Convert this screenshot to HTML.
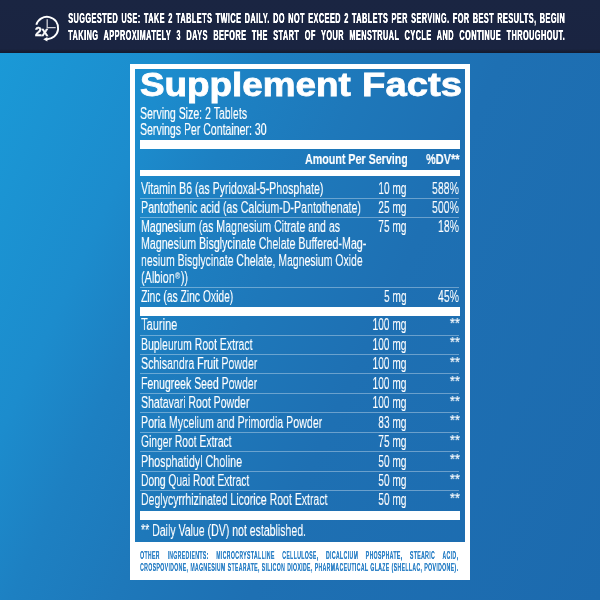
<!DOCTYPE html>
<html><head><meta charset="utf-8"><style>
html,body{margin:0;padding:0;width:600px;height:600px;overflow:hidden}
body{position:relative;font-family:"Liberation Sans",sans-serif;color:#fff;
background:linear-gradient(115deg,#1a9bd8 0%,#1c8ccd 23%,#1d80c2 33%,#1e78ba 45%,#1e70b3 60%,#1c6aae 100%)}
.t{position:absolute;white-space:nowrap;line-height:1;transform-origin:0 0;-webkit-text-stroke:0.15px currentColor;will-change:transform}
.r{position:absolute}
sup{font-size:0.62em;vertical-align:0.42em;line-height:0;margin:0 1px 0 0.5px}
</style></head><body>
<div class="r" style="left:0px;top:0px;width:600px;height:53px;background:linear-gradient(#1a2542 0px,#1a2441 49px,#161d33 51.5px,#141a2e 53px);"></div>
<div class="t" style="left:67.50px;top:9.78px;font-size:15.5px;font-weight:700;transform:scaleX(0.468);width:1061.97px;text-align:justify;text-align-last:justify;-webkit-text-stroke:0px #fff;text-shadow:0.95px 0 0 #fff;letter-spacing:1.05px;">SUGGESTED USE: TAKE 2 TABLETS TWICE DAILY. DO NOT EXCEED 2 TABLETS PER SERVING. FOR BEST RESULTS, BEGIN</div>
<div class="t" style="left:67.50px;top:26.58px;font-size:15.5px;font-weight:700;transform:scaleX(0.468);width:1061.97px;text-align:justify;text-align-last:justify;-webkit-text-stroke:0px #fff;text-shadow:0.95px 0 0 #fff;letter-spacing:1.05px;">TAKING APPROXIMATELY 3 DAYS BEFORE THE START OF YOUR MENSTRUAL CYCLE AND CONTINUE THROUGHOUT.</div>
<svg class="r" style="left:30px;top:10px;will-change:transform" width="34" height="34" viewBox="30 10 34 34">
<path d="M36.3 24.7 A11.2 11.2 0 1 1 46.5 39.2" fill="none" stroke="#fff" stroke-width="1.9"/>
<path d="M43.2 39.2 L47.4 36.9 L47.4 41.5 Z" fill="#fff"/>
<path d="M47.2 19.3 V27.7 H55.7" fill="none" stroke="#d0d0d8" stroke-width="1.3"/>
<text x="34.9" y="35.7" font-family="Liberation Sans" font-weight="700" font-size="12" fill="#fff" stroke="#fff" stroke-width="0.4">2x</text>
</svg>
<div class="r" style="left:130px;top:64px;width:330px;height:473px;border:5px solid #fff;border-bottom-width:38px"></div>
<div class="t" style="left:139.60px;top:67.57px;font-size:33px;font-weight:700;transform:scaleX(1.1167);-webkit-text-stroke:0.8px #fff;">Supplement</div>
<div class="t" style="left:362.00px;top:67.57px;font-size:33px;font-weight:700;transform:scaleX(1.16);-webkit-text-stroke:0.8px #fff;">Facts</div>
<div class="t" style="left:139.50px;top:105.76px;font-size:16px;transform:scaleX(0.6587500000000001);">Serving Size: 2 Tablets</div>
<div class="t" style="left:139.50px;top:122.26px;font-size:16px;transform:scaleX(0.6587500000000001);">Servings Per Container: 30</div>
<div class="r" style="left:140px;top:139.5px;width:320px;height:9.5px;background:#fff;"></div>
<div class="t" style="left:305.40px;top:151.18px;font-size:15.5px;font-weight:700;transform:scaleX(0.69);">Amount Per Serving</div>
<div class="t" style="left:425.50px;top:151.30px;font-size:15px;font-weight:700;transform:scaleX(0.73);">%DV**</div>
<div class="r" style="left:140px;top:169.5px;width:320px;height:6.0px;background:#fff;"></div>
<div class="t" style="left:140.50px;top:180.86px;font-size:16.0px;transform:scaleX(0.6624312499999999);">Vitamin B6 (as Pyridoxal-5-Phosphate)</div>
<div class="t" style="right:193.2px;top:180.86px;font-size:16.0px;transform:scaleX(0.63453125);transform-origin:100% 0">10 mg</div>
<div class="t" style="right:140.7px;top:180.86px;font-size:16.0px;transform:scaleX(0.6587500000000001);transform-origin:100% 0">588%</div>
<div class="r" style="left:140px;top:198px;width:319px;height:1px;background:rgba(255,255,255,0.34);"></div>
<div class="t" style="left:140.50px;top:199.96px;font-size:16.0px;transform:scaleX(0.6666937500000001);">Pantothenic acid (as Calcium-D-Pantothenate)</div>
<div class="t" style="right:193.2px;top:199.96px;font-size:16.0px;transform:scaleX(0.63453125);transform-origin:100% 0">25 mg</div>
<div class="t" style="right:140.7px;top:199.96px;font-size:16.0px;transform:scaleX(0.6587500000000001);transform-origin:100% 0">500%</div>
<div class="r" style="left:140px;top:217px;width:319px;height:1px;background:rgba(255,255,255,0.34);"></div>
<div class="t" style="left:140.50px;top:219.06px;font-size:16.0px;transform:scaleX(0.662140625);">Magnesium (as Magnesium Citrate and as</div>
<div class="t" style="right:193.2px;top:219.06px;font-size:16.0px;transform:scaleX(0.63453125);transform-origin:100% 0">75 mg</div>
<div class="t" style="right:140.7px;top:219.06px;font-size:16.0px;transform:scaleX(0.6587500000000001);transform-origin:100% 0">18%</div>
<div class="t" style="left:140.50px;top:236.06px;font-size:16.0px;transform:scaleX(0.6653374999999999);">Magnesium Bisglycinate Chelate Buffered-Mag-</div>
<div class="t" style="left:140.50px;top:253.06px;font-size:16.0px;transform:scaleX(0.65429375);">nesium Bisglycinate Chelate, Magnesium Oxide</div>
<div class="t" style="left:140.50px;top:270.06px;font-size:16.0px;transform:scaleX(0.678125);">(Albion<sup>&reg;</sup>))</div>
<div class="r" style="left:140px;top:287px;width:319px;height:1px;background:rgba(255,255,255,0.34);"></div>
<div class="t" style="left:140.50px;top:289.36px;font-size:16.0px;transform:scaleX(0.64460625);">Zinc (as Zinc Oxide)</div>
<div class="t" style="right:193.2px;top:289.36px;font-size:16.0px;transform:scaleX(0.63453125);transform-origin:100% 0">5 mg</div>
<div class="t" style="right:140.7px;top:289.36px;font-size:16.0px;transform:scaleX(0.6587500000000001);transform-origin:100% 0">45%</div>
<div class="r" style="left:140px;top:307px;width:320px;height:9px;background:#fff;"></div>
<div class="t" style="left:140.50px;top:317.41px;font-size:16.0px;transform:scaleX(0.69265625);">Taurine</div>
<div class="t" style="right:193.2px;top:317.41px;font-size:16.0px;transform:scaleX(0.63453125);transform-origin:100% 0">100 mg</div>
<div class="t" style="right:140.20px;top:315.95px;font-size:14px;line-height:1;transform:scaleX(0.92);transform-origin:100% 0">**</div>
<div class="r" style="left:140px;top:334.5px;width:319px;height:1.0px;background:rgba(255,255,255,0.34);"></div>
<div class="t" style="left:140.50px;top:336.86px;font-size:16.0px;transform:scaleX(0.656328125);">Bupleurum Root Extract</div>
<div class="t" style="right:193.2px;top:336.86px;font-size:16.0px;transform:scaleX(0.63453125);transform-origin:100% 0">100 mg</div>
<div class="t" style="right:140.20px;top:335.40px;font-size:14px;line-height:1;transform:scaleX(0.92);transform-origin:100% 0">**</div>
<div class="r" style="left:140px;top:353.95px;width:319px;height:1.0px;background:rgba(255,255,255,0.34);"></div>
<div class="t" style="left:140.50px;top:356.31px;font-size:16.0px;transform:scaleX(0.6645625000000001);">Schisandra Fruit Powder</div>
<div class="t" style="right:193.2px;top:356.31px;font-size:16.0px;transform:scaleX(0.63453125);transform-origin:100% 0">100 mg</div>
<div class="t" style="right:140.20px;top:354.85px;font-size:14px;line-height:1;transform:scaleX(0.92);transform-origin:100% 0">**</div>
<div class="r" style="left:140px;top:373.4px;width:319px;height:1.0px;background:rgba(255,255,255,0.34);"></div>
<div class="t" style="left:140.50px;top:375.76px;font-size:16.0px;transform:scaleX(0.656425);">Fenugreek Seed Powder</div>
<div class="t" style="right:193.2px;top:375.76px;font-size:16.0px;transform:scaleX(0.63453125);transform-origin:100% 0">100 mg</div>
<div class="t" style="right:140.20px;top:374.30px;font-size:14px;line-height:1;transform:scaleX(0.92);transform-origin:100% 0">**</div>
<div class="r" style="left:140px;top:392.85px;width:319px;height:1.0px;background:rgba(255,255,255,0.34);"></div>
<div class="t" style="left:140.50px;top:395.21px;font-size:16.0px;transform:scaleX(0.6587500000000001);">Shatavari Root Powder</div>
<div class="t" style="right:193.2px;top:395.21px;font-size:16.0px;transform:scaleX(0.63453125);transform-origin:100% 0">100 mg</div>
<div class="t" style="right:140.20px;top:393.75px;font-size:14px;line-height:1;transform:scaleX(0.92);transform-origin:100% 0">**</div>
<div class="r" style="left:140px;top:412.3px;width:319px;height:1.0px;background:rgba(255,255,255,0.34);"></div>
<div class="t" style="left:140.50px;top:414.66px;font-size:16.0px;transform:scaleX(0.6661125);">Poria Mycelium and Primordia Powder</div>
<div class="t" style="right:193.2px;top:414.66px;font-size:16.0px;transform:scaleX(0.63453125);transform-origin:100% 0">83 mg</div>
<div class="t" style="right:140.20px;top:413.20px;font-size:14px;line-height:1;transform:scaleX(0.92);transform-origin:100% 0">**</div>
<div class="r" style="left:140px;top:431.75px;width:319px;height:1.0px;background:rgba(255,255,255,0.34);"></div>
<div class="t" style="left:140.50px;top:434.11px;font-size:16.0px;transform:scaleX(0.6443156250000001);">Ginger Root Extract</div>
<div class="t" style="right:193.2px;top:434.11px;font-size:16.0px;transform:scaleX(0.63453125);transform-origin:100% 0">75 mg</div>
<div class="t" style="right:140.20px;top:432.65px;font-size:14px;line-height:1;transform:scaleX(0.92);transform-origin:100% 0">**</div>
<div class="r" style="left:140px;top:451.2px;width:319px;height:1.0px;background:rgba(255,255,255,0.34);"></div>
<div class="t" style="left:140.50px;top:453.56px;font-size:16.0px;transform:scaleX(0.6723125);">Phosphatidyl Choline</div>
<div class="t" style="right:193.2px;top:453.56px;font-size:16.0px;transform:scaleX(0.63453125);transform-origin:100% 0">50 mg</div>
<div class="t" style="right:140.20px;top:452.10px;font-size:14px;line-height:1;transform:scaleX(0.92);transform-origin:100% 0">**</div>
<div class="r" style="left:140px;top:470.65px;width:319px;height:1.0px;background:rgba(255,255,255,0.34);"></div>
<div class="t" style="left:140.50px;top:473.01px;font-size:16.0px;transform:scaleX(0.640828125);">Dong Quai Root Extract</div>
<div class="t" style="right:193.2px;top:473.01px;font-size:16.0px;transform:scaleX(0.63453125);transform-origin:100% 0">50 mg</div>
<div class="t" style="right:140.20px;top:471.55px;font-size:14px;line-height:1;transform:scaleX(0.92);transform-origin:100% 0">**</div>
<div class="r" style="left:140px;top:490.1px;width:319px;height:1.0px;background:rgba(255,255,255,0.34);"></div>
<div class="t" style="left:140.50px;top:492.46px;font-size:16.0px;transform:scaleX(0.657296875);">Deglycyrrhizinated Licorice Root Extract</div>
<div class="t" style="right:193.2px;top:492.46px;font-size:16.0px;transform:scaleX(0.63453125);transform-origin:100% 0">50 mg</div>
<div class="t" style="right:140.20px;top:491.00px;font-size:14px;line-height:1;transform:scaleX(0.92);transform-origin:100% 0">**</div>
<div class="r" style="left:140px;top:510.5px;width:320px;height:9.0px;background:#fff;"></div>
<div class="t" style="left:140.50px;top:523.26px;font-size:16.0px;transform:scaleX(0.6587500000000001);">** Daily Value (DV) not established.</div>
<div class="t" style="left:140.20px;top:550.09px;font-size:11px;font-weight:700;color:#3385c8;transform:scaleX(0.47);width:677.02px;text-align:justify;text-align-last:justify;letter-spacing:0.75px;-webkit-text-stroke:0px #2d7fc2;text-shadow:0.3px 0 0 #3385c8;">OTHER INGREDIENTS: MICROCRYSTALLINE CELLULOSE, DICALCIUM PHOSPHATE, STEARIC ACID,</div>
<div class="t" style="left:140.20px;top:562.09px;font-size:11px;font-weight:700;color:#3385c8;transform:scaleX(0.47);width:677.02px;text-align:justify;text-align-last:justify;letter-spacing:0.75px;-webkit-text-stroke:0px #2d7fc2;text-shadow:0.3px 0 0 #3385c8;">CROSPOVIDONE, MAGNESIUM STEARATE, SILICON DIOXIDE, PHARMACEUTICAL GLAZE (SHELLAC, POVIDONE).</div>
</body></html>
